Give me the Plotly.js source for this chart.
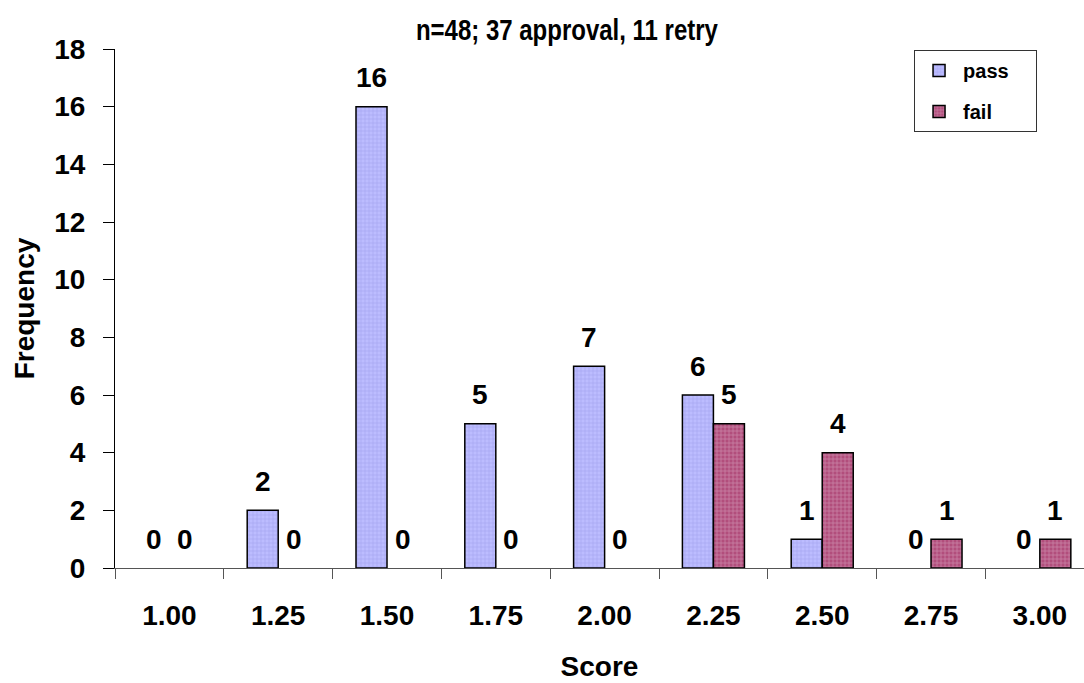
<!DOCTYPE html>
<html>
<head>
<meta charset="utf-8">
<script src="https://cdn.plot.ly/plotly-3.0.1.min.js"></script>
<style>
html,body{margin:0;padding:0;background:#fff;}
#chart{width:1084px;height:683px;}
#chart .gtitle{transform-box:fill-box;transform-origin:50% 50%;transform:scaleY(1.25);}
</style>
</head>
<body>
<div id="chart"></div>
<script>
var categories = ["1.00","1.25","1.50","1.75","2.00","2.25","2.50","2.75","3.00"];
var passValues = [0, 2, 16, 5, 7, 6, 1, 0, 0];
var failValues = [0, 0, 0, 0, 0, 5, 4, 1, 1];
var yTickValues = [0, 2, 4, 6, 8, 10, 12, 14, 16, 18];
var seriesNames = ["pass", "fail"];
var titleText = "n=48; 37 approval, 11 retry";

var F = "Liberation Sans, Arial, Helvetica, sans-serif";
var PAD = "\u00a0\u00a0\u00a0\u00a0";

var passMarker = {
  color: "#B4B4FF",
  line: {color: "#000", width: 1.5},
  pattern: {shape: "+", fgcolor: "#A4A4F0", bgcolor: "#BCBCFF", size: 4, solidity: 0.3}
};
var failMarker = {
  color: "#B5527F",
  line: {color: "#000", width: 1.5},
  pattern: {shape: "+", fgcolor: "#CC8AAA", bgcolor: "#B24E7C", size: 4, solidity: 0.3}
};

function withWidths(m, vals){
  var c = JSON.parse(JSON.stringify(m));
  c.line.width = vals.map(function(v){ return v > 0 ? 1.5 : 0; });
  return c;
}

// visible bars (zero-height bars drawn without outline)
var passTrace = {
  type: "bar", name: seriesNames[0], x: categories, y: passValues,
  showlegend: false, marker: withWidths(passMarker, passValues), hoverinfo: "x+y"
};
var failTrace = {
  type: "bar", name: seriesNames[1], x: categories, y: failValues,
  showlegend: false, marker: withWidths(failMarker, failValues), hoverinfo: "x+y"
};
// legend entries: same series on a hidden overlay axis whose range keeps them out of view
var passLegend = {
  type: "bar", name: seriesNames[0] + PAD, x: categories, y: passValues,
  xaxis: "x2", yaxis: "y2", legendgroup: "a", showlegend: true, marker: passMarker, hoverinfo: "skip"
};
var failLegend = {
  type: "bar", name: seriesNames[1] + PAD, x: categories, y: failValues,
  xaxis: "x2", yaxis: "y2", legendgroup: "b", showlegend: true, marker: failMarker, hoverinfo: "skip"
};

var annotations = [];
categories.forEach(function(c, i){
  annotations.push({x: i, y: passValues[i], xref: "x", yref: "y", text: String(passValues[i]),
    showarrow: false, xshift: -15.5, yshift: 29, yanchor: "middle",
    font: {family: F, size: 28, color: "#000", weight: "bold"}});
  annotations.push({x: i, y: failValues[i], xref: "x", yref: "y", text: String(failValues[i]),
    showarrow: false, xshift: 15.5, yshift: 29, yanchor: "middle",
    font: {family: F, size: 28, color: "#000", weight: "bold"}});
});

var layout = {
  width: 1084, height: 683,
  margin: {l: 115, r: 0, t: 49, b: 115, pad: 0},
  paper_bgcolor: "#fff", plot_bgcolor: "#fff",
  barmode: "group", bargap: 0.43, bargroupgap: 0,
  title: {
    text: titleText,
    font: {family: F, size: 24, color: "#000", weight: "bold"},
    x: 0.523, xref: "container", xanchor: "center",
    y: 0.957, yref: "container", yanchor: "middle"
  },
  xaxis: {
    type: "category",
    range: [-0.5, 8.406],
    tickson: "boundaries",
    ticks: "outside", ticklen: 10, tickcolor: "#555", tickwidth: 1,
    showline: true, linecolor: "#555", linewidth: 1,
    showgrid: false, zeroline: false,
    tickfont: {family: F, size: 28, color: "#000", weight: "bold"},
    ticklabelstandoff: 22,
    title: {text: "Score", font: {family: F, size: 28, color: "#000", weight: "bold"}, standoff: 26}
  },
  yaxis: {
    range: [0, 18],
    tickvals: yTickValues,
    ticks: "outside", ticklen: 11, tickcolor: "#000", tickwidth: 1,
    showline: true, linecolor: "#000", linewidth: 1,
    showgrid: false, zeroline: false,
    tickfont: {family: F, size: 28, color: "#000", weight: "bold"},
    ticklabelstandoff: 12,
    title: {text: "Frequency", font: {family: F, size: 28, color: "#000", weight: "bold"}, standoff: 11}
  },
  xaxis2: {type: "category", overlaying: "x", visible: false, range: [-0.5, 8.406]},
  yaxis2: {overlaying: "y", visible: false, range: [1000, 2000]},
  legend: {
    x: 0.8246, y: 0.998, xanchor: "left", yanchor: "top",
    bordercolor: "#333", borderwidth: 1, bgcolor: "#fff",
    font: {family: F, size: 20, color: "#000", weight: "bold"},
    traceorder: "grouped", tracegroupgap: 12,
    itemwidth: 38
  },
  annotations: annotations,
  showlegend: true
};

Plotly.newPlot("chart", [passTrace, failTrace, passLegend, failLegend], layout, {displayModeBar: false, staticPlot: true});
</script>
</body>
</html>
